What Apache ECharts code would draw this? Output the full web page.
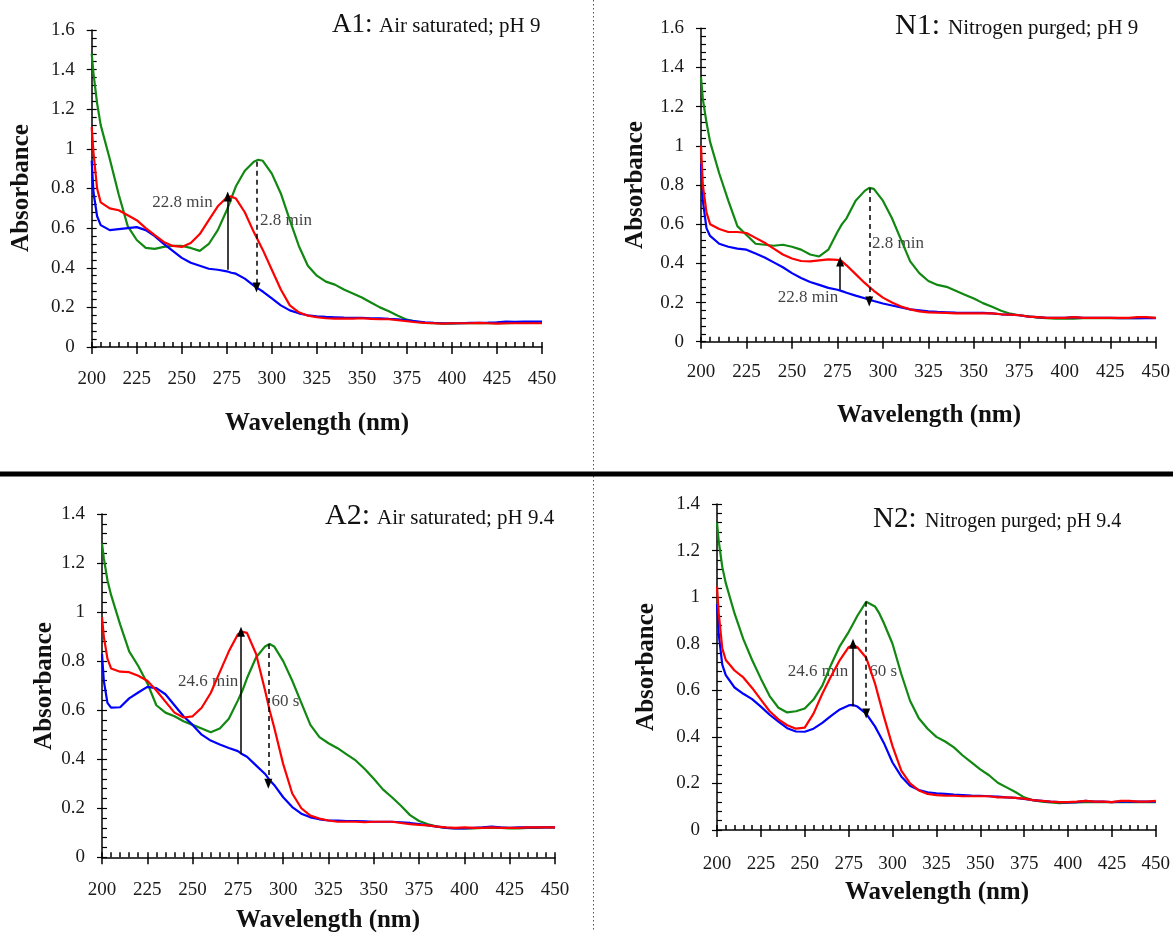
<!DOCTYPE html>
<html><head><meta charset="utf-8">
<script src="https://cdn.jsdelivr.net/npm/echarts@6/dist/echarts.min.js"></script>
<style>html,body{margin:0;padding:0;background:#fff}#c{width:1173px;height:932px}</style>
</head><body><div id="c"></div>
<script>
// ---------------- data ----------------
const wavelength = [200,201,203,205,210,
  215,220,225,230,235,240,245,250,255,260,
  265,270,275,277.5,280,285,290,292.5,295,300,
  305,310,315,320,325,330,335,340,345,350,
  355,360,365,370,375,380,385,390,395,400,
  405,410,415,420,425,430,435,440,445,450];

const A1_green = [1.48,1.38,1.23,1.12,0.95,
  0.77,0.61,0.54,0.50,0.495,0.505,0.51,0.51,0.50,0.485,
  0.52,0.59,0.69,0.75,0.81,0.89,0.935,0.945,0.94,0.875,
  0.775,0.64,0.51,0.41,0.36,0.33,0.315,0.29,0.27,0.25,
  0.225,0.20,0.18,0.158,0.138,0.128,0.122,0.12,0.118,0.118,
  0.12,0.12,0.12,0.12,0.122,0.12,0.122,0.125,0.125,0.125];
const A1_red = [1.11,0.98,0.80,0.73,0.70,
  0.69,0.665,0.64,0.60,0.565,0.53,0.51,0.505,0.525,0.57,
  0.64,0.71,0.755,0.76,0.75,0.68,0.58,0.535,0.49,0.39,
  0.29,0.21,0.175,0.158,0.15,0.145,0.143,0.143,0.143,0.145,
  0.142,0.14,0.14,0.135,0.13,0.125,0.122,0.12,0.118,0.12,
  0.12,0.12,0.122,0.12,0.118,0.12,0.12,0.12,0.12,0.12];
const A1_blue = [0.94,0.78,0.66,0.615,0.59,
  0.595,0.60,0.605,0.59,0.56,0.52,0.485,0.45,0.425,0.41,
  0.395,0.39,0.382,0.375,0.37,0.345,0.31,0.295,0.28,0.245,
  0.21,0.185,0.17,0.16,0.155,0.152,0.15,0.148,0.147,0.147,
  0.145,0.145,0.142,0.14,0.135,0.13,0.125,0.122,0.12,0.12,
  0.12,0.122,0.122,0.123,0.125,0.128,0.127,0.128,0.128,0.128];

const N1_green = [1.35,1.24,1.12,1.02,0.86,
  0.72,0.59,0.545,0.50,0.495,0.49,0.495,0.485,0.47,0.445,
  0.435,0.47,0.56,0.60,0.63,0.72,0.77,0.785,0.78,0.72,
  0.63,0.52,0.41,0.35,0.31,0.29,0.28,0.26,0.24,0.22,
  0.197,0.178,0.158,0.143,0.135,0.13,0.123,0.12,0.118,0.118,
  0.118,0.12,0.12,0.12,0.12,0.12,0.12,0.12,0.122,0.122];
const N1_red = [1.00,0.80,0.66,0.60,0.575,
  0.56,0.56,0.555,0.53,0.505,0.475,0.445,0.425,0.412,0.41,
  0.415,0.42,0.418,0.41,0.39,0.345,0.30,0.28,0.26,0.225,
  0.20,0.18,0.165,0.155,0.15,0.148,0.147,0.145,0.145,0.145,
  0.145,0.145,0.14,0.138,0.135,0.128,0.125,0.122,0.122,0.122,
  0.125,0.122,0.122,0.122,0.122,0.122,0.122,0.125,0.125,0.122];
const N1_blue = [0.91,0.72,0.58,0.54,0.50,
  0.485,0.475,0.47,0.45,0.43,0.405,0.38,0.35,0.325,0.305,
  0.29,0.275,0.265,0.258,0.25,0.235,0.222,0.215,0.208,0.195,
  0.185,0.175,0.165,0.16,0.155,0.152,0.15,0.148,0.147,0.147,
  0.147,0.145,0.14,0.138,0.135,0.128,0.125,0.122,0.122,0.122,
  0.125,0.122,0.122,0.122,0.122,0.12,0.12,0.12,0.12,0.12];

const A2_green = [1.28,1.22,1.13,1.07,0.95,
  0.84,0.78,0.71,0.62,0.59,0.575,0.555,0.54,0.525,0.51,
  0.525,0.565,0.64,0.68,0.73,0.815,0.86,0.87,0.86,0.80,
  0.72,0.63,0.54,0.49,0.465,0.445,0.42,0.395,0.36,0.32,
  0.277,0.245,0.21,0.172,0.148,0.135,0.125,0.12,0.118,0.118,
  0.118,0.12,0.12,0.12,0.118,0.118,0.12,0.12,0.122,0.122];
const A2_red = [0.98,0.90,0.81,0.77,0.757,
  0.755,0.74,0.72,0.68,0.635,0.59,0.57,0.575,0.61,0.67,
  0.755,0.84,0.91,0.92,0.915,0.83,0.68,0.60,0.53,0.38,
  0.26,0.20,0.17,0.158,0.15,0.145,0.145,0.145,0.143,0.145,
  0.145,0.145,0.14,0.135,0.132,0.13,0.125,0.122,0.12,0.122,
  0.12,0.12,0.122,0.12,0.12,0.12,0.122,0.122,0.122,0.122];
const A2_blue = [0.83,0.72,0.63,0.61,0.612,
  0.648,0.672,0.695,0.69,0.665,0.62,0.575,0.54,0.50,0.476,
  0.46,0.446,0.433,0.42,0.41,0.375,0.34,0.315,0.295,0.245,
  0.205,0.178,0.163,0.155,0.15,0.15,0.148,0.148,0.147,0.145,
  0.145,0.145,0.143,0.14,0.135,0.13,0.125,0.12,0.118,0.118,
  0.12,0.122,0.125,0.122,0.12,0.122,0.122,0.122,0.122,0.122];

const N2_green = [1.32,1.24,1.13,1.06,0.93,
  0.82,0.73,0.65,0.575,0.525,0.505,0.51,0.522,0.56,0.62,
  0.71,0.79,0.85,0.885,0.92,0.98,0.96,0.93,0.89,0.80,
  0.67,0.555,0.48,0.435,0.40,0.38,0.355,0.32,0.29,0.26,
  0.235,0.203,0.183,0.163,0.14,0.128,0.122,0.118,0.115,0.117,
  0.118,0.12,0.12,0.12,0.12,0.12,0.12,0.12,0.12,0.12];
const N2_red = [1.045,0.93,0.78,0.73,0.685,
  0.655,0.61,0.56,0.51,0.475,0.45,0.435,0.44,0.50,0.585,
  0.66,0.73,0.785,0.795,0.785,0.74,0.63,0.56,0.49,0.36,
  0.255,0.20,0.17,0.155,0.15,0.148,0.147,0.145,0.145,0.145,
  0.145,0.14,0.14,0.138,0.135,0.128,0.125,0.122,0.12,0.12,
  0.122,0.125,0.122,0.122,0.12,0.125,0.125,0.122,0.122,0.125];
const N2_blue = [0.97,0.84,0.71,0.665,0.612,
  0.585,0.562,0.53,0.495,0.465,0.437,0.423,0.422,0.435,0.46,
  0.49,0.518,0.535,0.537,0.53,0.50,0.445,0.41,0.375,0.29,
  0.23,0.19,0.172,0.162,0.157,0.155,0.152,0.15,0.148,0.147,
  0.145,0.143,0.14,0.138,0.133,0.128,0.125,0.122,0.12,0.118,
  0.12,0.125,0.122,0.122,0.12,0.122,0.122,0.122,0.122,0.122];

// arrows: [wavelength, from, to, style]
const A1_arrows = [[275.5,0.39,0.76,'solid'],[291.5,0.935,0.30,'dashed']];
const N1_arrows = [[276.5,0.265,0.41,'solid'],[292.5,0.785,0.205,'dashed']];
const A2_arrows = [[276.7,0.42,0.92,'solid'],[291.8,0.87,0.30,'dashed']];
const N2_arrows = [[277.5,0.53,0.80,'solid'],[285,0.98,0.50,'dashed']];
// notes: [wavelength, absorbance, text]
const A1_notes = [[233.6,0.727,'22.8 min'],[293.5,0.636,'2.8 min']];
const N1_notes = [[242.2,0.226,'22.8 min'],[294,0.50,'2.8 min']];
const A2_notes = [[241.9,0.716,'24.6 min'],[293.6,0.635,'60 s']];
const N2_notes = [[240.3,0.68,'24.6 min'],[286.7,0.68,'60 s']];

const yMaxes = [1.6, 1.6, 1.4, 1.4];
const xTicks = [200, 450, 25];

// ---------------- layout ----------------
const FONT = '"Liberation Serif","Times New Roman",serif';
const panels = [
  {g:A1_green, r:A1_red, b:A1_blue, arrows:A1_arrows, notes:A1_notes, yMax:yMaxes[0],
   grid:{left:91.7, top:30, width:450.3, height:317}, xm:23},
  {g:N1_green, r:N1_red, b:N1_blue, arrows:N1_arrows, notes:N1_notes, yMax:yMaxes[1],
   grid:{left:701, top:28.3, width:456, height:313.4}, xm:21},
  {g:A2_green, r:A2_red, b:A2_blue, arrows:A2_arrows, notes:A2_notes, yMax:yMaxes[2],
   grid:{left:102, top:514, width:453, height:343.3}, xm:23},
  {g:N2_green, r:N2_red, b:N2_blue, arrows:N2_arrows, notes:N2_notes, yMax:yMaxes[3],
   grid:{left:717, top:504, width:441, height:326}, xm:25}
];

const grids = [], xAxes = [], yAxes = [], series = [];
const axisLineStyle = {color:'#000', width:1.5};
panels.forEach((p, i) => {
  grids.push(Object.assign({containLabel:false}, p.grid));
  const xBase = {type:'value', gridIndex:i, min:xTicks[0], max:xTicks[1], interval:xTicks[2],
    splitLine:{show:false}, position:'bottom'};
  xAxes.push(Object.assign({}, xBase, {
    axisLine:{show:true, lineStyle:axisLineStyle},
    axisTick:{show:true, inside:false, length:7, lineStyle:{color:'#000', width:1.5}},
    axisLabel:{show:true, margin:p.xm, fontFamily:FONT, fontSize:19, color:'#1a1a1a'}
  }));
  xAxes.push(Object.assign({}, xBase, {
    axisLine:{show:false},
    axisTick:{show:true, inside:true, length:5, lineStyle:{color:'#000', width:1.5}},
    minorTick:{show:true, splitNumber:5, length:5, lineStyle:{color:'#000', width:1.5}},
    axisLabel:{show:false}
  }));
  const yBase = {type:'value', gridIndex:i, min:0, max:p.yMax, interval:0.2,
    splitLine:{show:false}, position:'left'};
  yAxes.push(Object.assign({}, yBase, {
    axisLine:{show:true, lineStyle:axisLineStyle},
    axisTick:{show:true, inside:false, length:5, lineStyle:{color:'#000', width:1.2}},
    axisLabel:{show:true, margin:17, fontFamily:FONT, fontSize:19, color:'#1a1a1a'}
  }));
  yAxes.push(Object.assign({}, yBase, {
    axisLine:{show:false},
    axisTick:{show:true, inside:true, length:5, lineStyle:{color:'#000', width:1.2}},
    minorTick:{show:true, splitNumber:5, length:5, lineStyle:{color:'#000', width:1.2}},
    axisLabel:{show:false}
  }));
  const mk = (arr, color, extra) => Object.assign({
    type:'line', xAxisIndex:2*i, yAxisIndex:2*i, symbol:'none', silent:true,
    data: wavelength.map((w,k) => [w, arr[k]]),
    lineStyle:{color:color, width:2.2}, itemStyle:{color:color}
  }, extra || {});
  series.push(mk(p.g, '#118811'));
  series.push(mk(p.b, '#0000ff'));
  series.push(mk(p.r, '#ff0000', {
    markLine:{silent:true, animation:false, symbol:['none','triangle'], symbolSize:[8,10],
      label:{show:false},
      lineStyle:{color:'#000', width:1.5, type:'solid'},
      data: p.arrows.map(a => [
        {coord:[a[0], a[1]], lineStyle:{color:'#000', width:1.5, type: a[3]==='dashed' ? [5,4] : 'solid'}},
        {coord:[a[0], a[2]]}
      ])
    }
  }));
  series.push({
    type:'scatter', xAxisIndex:2*i, yAxisIndex:2*i, symbolSize:0, silent:true,
    data: p.notes.map(n => ({value:[n[0], n[1]], name:n[2]})),
    label:{show:true, position:'right', distance:0, formatter:'{b}',
      fontFamily:FONT, fontSize:17, color:'#111'}
  });
});

// ---------------- text & separators ----------------
function txt(x, y, text, size, opts) {
  return Object.assign({type:'text', x:x, y:y, silent:true,
    style:{text:text, font: (opts && opts.bold ? 'bold ' : '') + size + 'px ' + FONT,
      fill:'#111', textAlign:(opts && opts.align) || 'left', textVerticalAlign:'middle'}},
    (opts && opts.rot) ? {rotation:opts.rot} : {});
}
const graphic = [
  {type:'line', silent:true, shape:{x1:593.5, y1:0, x2:593.5, y2:932},
    style:{stroke:'#555', lineWidth:1, lineDash:[1.5,2.5]}},
  {type:'line', silent:true, shape:{x1:0, y1:474, x2:1173, y2:474},
    style:{stroke:'#000', lineWidth:5}},
  // titles
  txt(332, 24.6, 'A1:', 27), txt(379, 26.7, 'Air saturated; pH 9', 21),
  txt(895, 26, 'N1:', 30), txt(948, 28.6, 'Nitrogen purged; pH 9', 21),
  txt(325, 516, 'A2:', 30), txt(377, 518.7, 'Air saturated; pH 9.4', 21),
  txt(873, 519.3, 'N2:', 29), txt(925, 522, 'Nitrogen purged; pH 9.4', 20),
  // axis names
  txt(317, 424, 'Wavelength (nm)', 25, {bold:true, align:'center'}),
  txt(22, 188, 'Absorbance', 25, {bold:true, align:'center', rot:Math.PI/2}),
  txt(929, 416, 'Wavelength (nm)', 25, {bold:true, align:'center'}),
  txt(636, 185, 'Absorbance', 25, {bold:true, align:'center', rot:Math.PI/2}),
  txt(328, 921, 'Wavelength (nm)', 25, {bold:true, align:'center'}),
  txt(45, 686, 'Absorbance', 25, {bold:true, align:'center', rot:Math.PI/2}),
  txt(937, 893, 'Wavelength (nm)', 25, {bold:true, align:'center'}),
  txt(647, 667, 'Absorbance', 25, {bold:true, align:'center', rot:Math.PI/2})
];

const chart = echarts.init(document.getElementById('c'), null, {renderer:'canvas'});
chart.setOption({
  animation:false,
  backgroundColor:'#fff',
  grid:grids, xAxis:xAxes, yAxis:yAxes, series:series, graphic:graphic
});
</script></body></html>
